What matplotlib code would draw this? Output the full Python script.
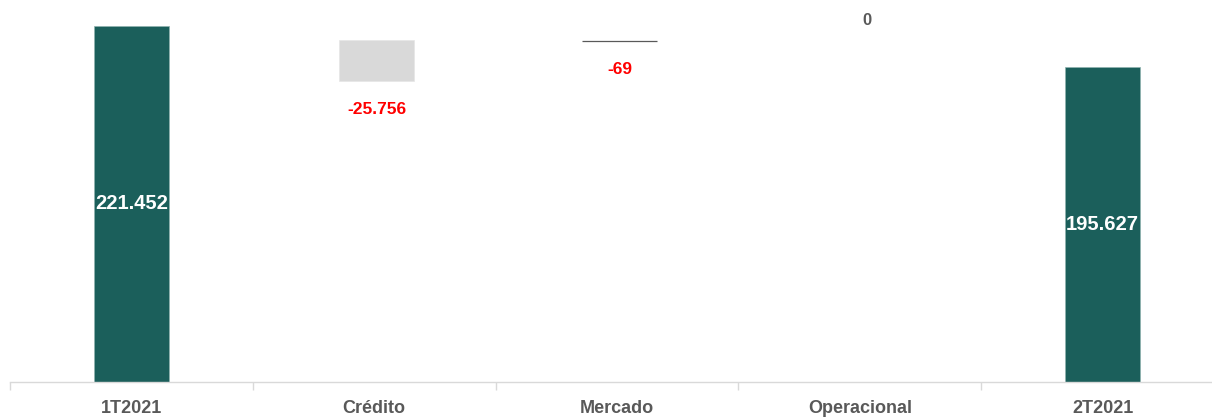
import numpy as np
import matplotlib.pyplot as plt
from matplotlib.ticker import FixedLocator

categorias = ["1T2021", "Crédito", "Mercado", "Operacional", "2T2021"]
valores = [221452, -25756, -69, 0, 195627]
# serie invisivel de base
base = [0, 187000, 211900, 211830, 0]
totais = [True, False, False, False, True]

cor_total = "#1B5F5B"
cor_credito = "#D9D9D9"
cor_texto = "#595959"

plt.rcParams['font.family'] = ['Liberation Sans', 'DejaVu Sans']

fig = plt.figure(figsize=(12.12, 4.19), dpi=100)
ax = fig.add_axes([10 / 1212, 1 - 381.5 / 419, 1214 / 1212, 381.5 / 419])

x = np.arange(len(categorias))
largura = 0.31

def fmt(v):
    return f"{v:,}".replace(",", ".")

for i, (cat, v, b, tot) in enumerate(zip(categorias, valores, base, totais)):
    if tot:
        ax.bar(i, v, width=largura, color=cor_total, edgecolor="#8FB3AF", linewidth=0.5)
        ax.text(i, v / 2, fmt(v), ha="center", va="center", color="white",
                fontsize=14.5, fontweight="bold")
    else:
        altura = abs(v)
        if cat == "Crédito":
            ax.bar(i + 0.01, altura, bottom=b, width=largura, color=cor_credito,
                   edgecolor="#E6E6E6", linewidth=0.5)
        elif v != 0:
            ax.bar(i + 0.01, altura, bottom=b, width=largura, color=cor_texto,
                   edgecolor=cor_texto, linewidth=0.9)
        if v < 0:
            ax.annotate(fmt(v), (i + 0.01, b), xytext=(0, -20), textcoords="offset points",
                        ha="center", va="center", color="#FF0000",
                        fontsize=12.5, fontweight="bold")
        else:
            ax.annotate(fmt(v), (i + 0.03, b + altura), xytext=(0, 15),
                        textcoords="offset points", ha="center", va="center",
                        color=cor_texto, fontsize=12, fontweight="bold")

ax.set_xlim(-0.5, len(categorias) - 0.5)
ax.set_ylim(0, 237650)
ax.set_xticks(x)
ax.set_xticklabels(categorias, fontsize=13, fontweight="bold", color=cor_texto)
ax.xaxis.set_minor_locator(FixedLocator(np.arange(-0.5, len(categorias), 1.0)))
ax.tick_params(axis="x", which="major", length=0, pad=13)
ax.tick_params(axis="x", which="minor", length=6, color="#D9D9D9", width=1)
ax.set_yticks([])
for s in ["top", "right", "left"]:
    ax.spines[s].set_visible(False)
ax.spines["bottom"].set_color("#D9D9D9")
ax.spines["bottom"].set_linewidth(1)

fig.savefig("out.png", dpi=100)
